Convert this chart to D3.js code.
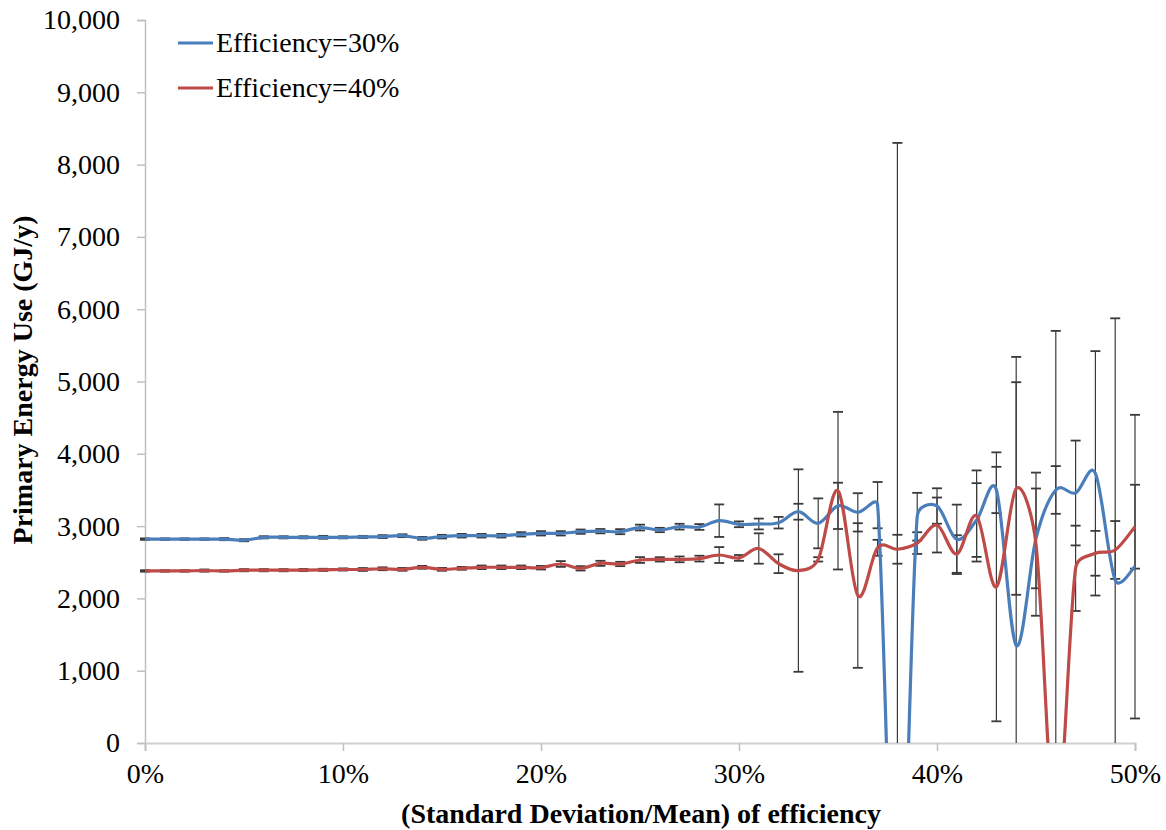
<!DOCTYPE html>
<html>
<head>
<meta charset="utf-8">
<script src="https://cdn.jsdelivr.net/npm/d3@7"></script>
<style>
  html, body { margin: 0; padding: 0; background: #fff; }
  svg { display: block; }
  svg text { font-family: "Liberation Serif", Tinos, "Times New Roman", "DejaVu Serif", "Noto Serif", serif; }
</style>
</head>
<body>
<svg id="chart" width="1166" height="830"></svg>
<script>
// ---- data ----
const xValues = d3.range(0, 51); // percent (0..50)

const blueName = "Efficiency=30%";
const redName = "Efficiency=40%";

const blueValues = [
  2820, 2820, 2820, 2820, 2820, 2805, 2845, 2845, 2845, 2845,
  2845, 2850, 2855, 2867, 2831, 2854, 2867, 2867, 2867, 2886,
  2900, 2900, 2923, 2930, 2923, 2980, 2946, 2992, 2988, 3075,
  3025, 3029, 3047, 3199, 3038, 3280, 3190, 3290, -3500, 3130,
  3278, 2817, 3084, 3500, 1350, 2830, 3500, 3458, 3730, 2254,
  2439
];
const blueErrors = [
  10, 10, 10, 10, 15, 15, 15, 15, 15, 20,
  15, 15, 20, 20, 20, 25, 25, 25, 25, 30,
  30, 30, 30, 30, 35, 40, 30, 40, 40, 225,
  40, 75, 80, 110, 345, 320, 265, 320, 11800, 330,
  245, 480, 510, 320, 3990, 690, 330, 725, 1690, 3620,
  2100
];

const redValues = [
  2380, 2380, 2380, 2385, 2380, 2390, 2390, 2390, 2392, 2395,
  2400, 2400, 2410, 2402, 2430, 2402, 2416, 2430, 2430, 2430,
  2425, 2476, 2416, 2485, 2476, 2531, 2540, 2540, 2550, 2600,
  2560, 2690, 2480, 2385, 2540, 3490, 2040, 2700, 2680, 2765,
  3015, 2614, 3140, 2160, 3520, 2750, -1200, 2416, 2624, 2670,
  2992
];
const redErrors = [
  10, 10, 10, 15, 10, 15, 15, 15, 15, 15,
  15, 20, 20, 20, 20, 20, 20, 25, 25, 25,
  25, 40, 30, 35, 30, 40, 30, 40, 40, 110,
  40, 210, 130, 1400, 30, 1090, 1000, 110, 200, 150,
  380, 260, 630, 1860, 1470, 990, 6900, 590, 310, 400,
  580
];

const yTicks = [0, 1000, 2000, 3000, 4000, 5000, 6000, 7000, 8000, 9000, 10000];
const xTicks = [0, 10, 20, 30, 40, 50];

const xTitle = "(Standard Deviation/Mean) of efficiency";
const yTitle = "Primary Energy Use (GJ/y)";

// ---- layout ----
(function () {
const svg = d3.select("#chart");
const pL = 145, pR = 1135, pT = 20, pB = 743;
const FS = 28;

const x = d3.scaleLinear().domain([0, 50]).range([pL, pR]);
const y = d3.scaleLinear().domain([0, 10000]).range([pB, pT]);

const blueColor = "#4a7ebb";
const redColor = "#be4b48";

svg.append("defs").append("clipPath").attr("id", "plotClip")
  .append("rect").attr("x", pL - 10).attr("y", pT).attr("width", pR - pL + 20).attr("height", pB - pT);

// axes
const yAxis = d3.axisLeft(y).tickValues(yTicks).tickFormat(d3.format(",")).tickSize(8).tickPadding(17);
const gy = svg.append("g").attr("transform", `translate(${pL},0)`).call(yAxis);
gy.attr("font-family", null);
gy.select(".domain").attr("stroke", "#bfbfbf").attr("stroke-width", 1.5);
gy.selectAll(".tick line").attr("stroke", "#bfbfbf").attr("stroke-width", 1.5);
gy.selectAll(".tick text").attr("font-size", FS).attr("fill", "#000");

const xAxis = d3.axisBottom(x).tickValues(xTicks).tickFormat(d => d + "%").tickSize(8).tickPadding(12);
const gx = svg.append("g").attr("transform", `translate(0,${pB})`).call(xAxis);
gx.attr("font-family", null);
gx.select(".domain").attr("stroke", "#d0d0d0").attr("stroke-width", 2);
gx.selectAll(".tick line").attr("stroke", "#bfbfbf").attr("stroke-width", 1.5);
gx.selectAll(".tick text").attr("font-size", FS).attr("fill", "#000");

// series
const series = [
  { name: blueName, values: blueValues, errors: blueErrors, color: blueColor },
  { name: redName, values: redValues, errors: redErrors, color: redColor }
];

const plot = svg.append("g").attr("clip-path", "url(#plotClip)");

const capW = 5;
series.forEach(s => {
  const g = plot.append("g").attr("stroke", "#3a3a3a").attr("stroke-width", 1.2);
  s.values.forEach((v, i) => {
    const cx = x(xValues[i]);
    const hi = y(v + s.errors[i]);
    const lo = y(v - s.errors[i]);
    g.append("line").attr("x1", cx).attr("x2", cx).attr("y1", hi).attr("y2", lo);
    g.append("line").attr("x1", cx - capW).attr("x2", cx + capW).attr("y1", hi).attr("y2", hi).attr("stroke-width", 1.8);
    g.append("line").attr("x1", cx - capW).attr("x2", cx + capW).attr("y1", lo).attr("y2", lo).attr("stroke-width", 1.8);
  });
});

// Excel-style smoothed line (Bezier with 1/6 tangents, capped at half segment length)
function smoothPath(values) {
  const pts = values.map((v, i) => [x(xValues[i]), y(v)]);
  const n = pts.length;
  const dist = (a, b) => Math.hypot(b[0] - a[0], b[1] - a[1]);
  const p = d3.path();
  p.moveTo(pts[0][0], pts[0][1]);
  for (let i = 0; i < n - 1; i++) {
    const P0 = pts[Math.max(i - 1, 0)], P1 = pts[i], P2 = pts[i + 1], P3 = pts[Math.min(i + 2, n - 1)];
    const d02 = dist(P0, P2), d12 = dist(P1, P2), d13 = dist(P1, P3);
    const f0 = d02 > 0 ? Math.min(1 / 6, d12 / (2 * d02)) : 0;
    const f3 = d13 > 0 ? Math.min(1 / 6, d12 / (2 * d13)) : 0;
    const c1 = [P1[0] + f0 * (P2[0] - P0[0]), P1[1] + f0 * (P2[1] - P0[1])];
    const c2 = [P2[0] - f3 * (P3[0] - P1[0]), P2[1] - f3 * (P3[1] - P1[1])];
    p.bezierCurveTo(c1[0], c1[1], c2[0], c2[1], P2[0], P2[1]);
  }
  return p.toString();
}

series.forEach(s => {
  plot.append("path")
    .attr("d", smoothPath(s.values))
    .attr("fill", "none")
    .attr("stroke", s.color)
    .attr("stroke-width", 3.2)
    .attr("stroke-linejoin", "round");
});

// legend
const legend = svg.append("g");
series.forEach((s, i) => {
  const ly = 43 + i * 45;
  legend.append("line").attr("x1", 178).attr("x2", 213).attr("y1", ly).attr("y2", ly)
    .attr("stroke", s.color).attr("stroke-width", 3);
  legend.append("text").attr("x", 216).attr("y", ly).attr("dy", "0.33em")
    .attr("font-size", FS).attr("fill", "#000").text(s.name);
});

// titles
svg.append("text").attr("x", 641).attr("y", 823).attr("text-anchor", "middle")
  .attr("font-size", FS).attr("font-weight", "bold").text(xTitle);

svg.append("text").attr("transform", `translate(32,380) rotate(-90)`).attr("text-anchor", "middle")
  .attr("font-size", FS).attr("font-weight", "bold").text(yTitle);
})();
</script>
</body>
</html>
